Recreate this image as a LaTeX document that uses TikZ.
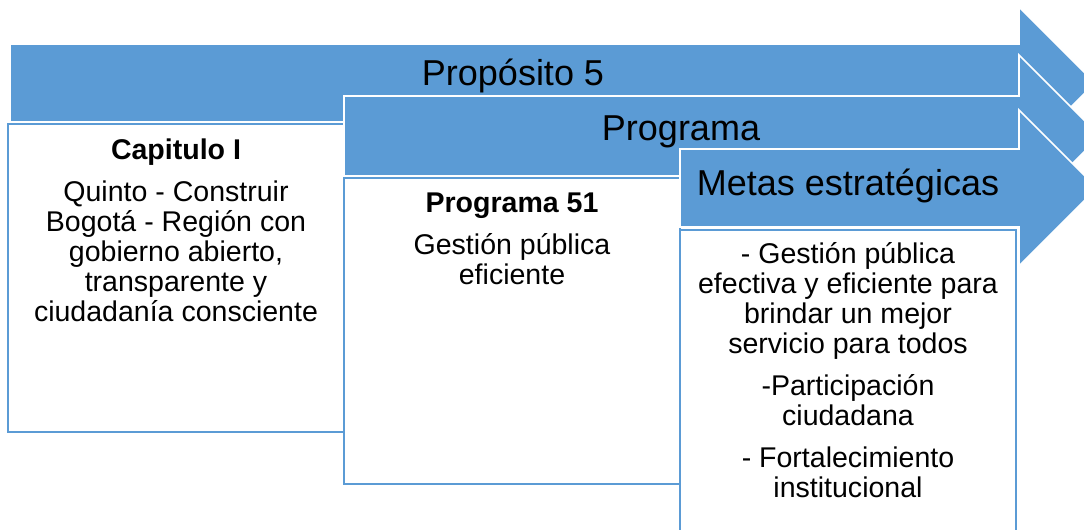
\documentclass[tikz,border=0pt]{standalone}
\usepackage{fontspec}
\setmainfont{Liberation Sans}
\definecolor{smartblue}{RGB}{91,155,213}
\tikzset{
  flecha/.style={fill=smartblue, draw=white, line width=1.2pt, line join=miter},
  caja/.style={fill=white, draw=smartblue, line width=1.6pt},
  titulo/.style={font=\fontsize{27}{32}\selectfont, inner sep=0pt, anchor=base},
  cuerpo/.style={font=\fontsize{21.4}{22.5}\selectfont, align=center, inner sep=0pt, anchor=base},
}
\begin{document}
\begin{tikzpicture}[x=0.75pt, y=-0.75pt]
    \useasboundingbox (0,0) rectangle (1084,529);
    \clip (0,0) rectangle (1084,529);
    % proposito
    \draw[flecha] (10,44) -- (1019,44) -- (1019,7) -- (1095,83) -- (1019,159) -- (1019,122) -- (10,122) -- cycle;
    \draw[caja] (8,124) rectangle (344,432);
    % programa
    \draw[flecha] (344,96) -- (1019,96) -- (1019,55) -- (1100,136) -- (1019,217) -- (1019,176) -- (344,176) -- cycle;
    \draw[caja] (344,178) rectangle (680,484);
    % metas
    \draw[flecha] (680,149) -- (1019,149) -- (1019,110) -- (1097,188) -- (1019,266) -- (1019,227) -- (680,227) -- cycle;
    \draw[caja] (680,230) rectangle (1016,545);
    \node[titulo] (proposito) at (513,85) {Propósito 5};
    \node[titulo] (programa) at (681,140) {Programa};
    \node[titulo] (metas) at (848,195) {Metas estratégicas};
    % base = last line
    \node[cuerpo] (capitulo) at (176,321) {\textbf{Capitulo I}\\[9pt]
        Quinto - Construir\\ Bogotá - Región con\\ gobierno abierto,\\
        transparente y\\ ciudadanía consciente};
    \node[cuerpo] (prog51) at (512,284) {\textbf{Programa 51}\\[9pt]
        Gestión pública\\ eficiente};
    \node[cuerpo] (listametas) at (848,497) {- Gestión pública\\
        efectiva y eficiente para\\ brindar un mejor\\ servicio para todos\\[9pt]
        -Participación\\ ciudadana\\[9pt]
        - Fortalecimiento\\ institucional};
\end{tikzpicture}
\end{document}
